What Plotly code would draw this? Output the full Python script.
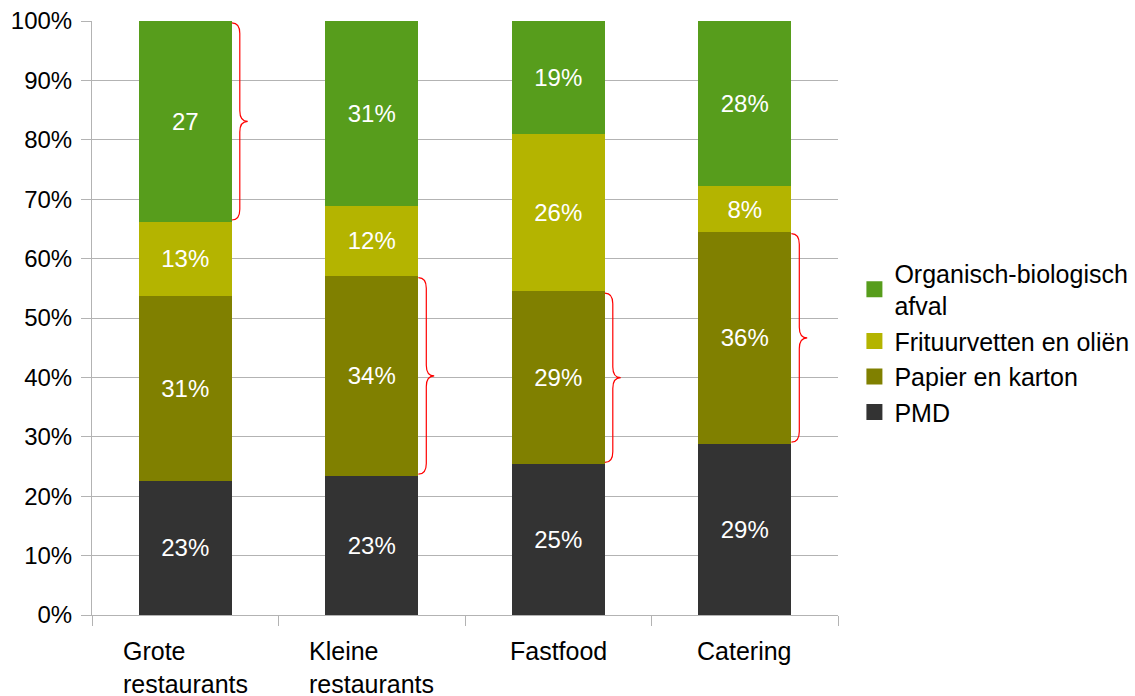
import plotly.graph_objects as go

categories = ["Grote<br>restaurants", "Kleine<br>restaurants", "Fastfood", "Catering"]
series_names = ["PMD", "Papier en karton", "Frituurvetten en oliën", "Organisch-biologisch<br>afval"]
pmd = [22.6, 23.4, 25.4, 28.8]
papier = [31.1, 33.7, 29.1, 35.7]
frituur = [12.5, 11.8, 26.5, 7.7]
organisch = [33.8, 31.1, 19.0, 27.8]
pmd_labels = ["23%", "23%", "25%", "29%"]
papier_labels = ["31%", "34%", "29%", "36%"]
frituur_labels = ["13%", "12%", "26%", "8%"]
organisch_labels = ["27", "31%", "19%", "28%"]
colors = ["#333333", "#808000", "#b4b400", "#579d1c"]
# brace: which series (index) is marked for each category
brace_series = [3, 1, 1, 1]
y_ticks = [0, 10, 20, 30, 40, 50, 60, 70, 80, 90, 100]
y_ticktext = [f"{v}%" for v in y_ticks]

FONT = "Liberation Sans, Arial, sans-serif"
values = [pmd, papier, frituur, organisch]
labels = [pmd_labels, papier_labels, frituur_labels, organisch_labels]
xpos = list(range(len(categories)))
BAR_W = 0.5

fig = go.Figure()
for vals, labs, col, name in zip(values, labels, colors, series_names):
    fig.add_trace(go.Bar(
        x=xpos, y=vals, width=BAR_W, name=name, marker=dict(color=col, line=dict(width=0)),
        text=labs, textposition="inside", insidetextanchor="middle", textangle=0,
        textfont=dict(color="white", size=24, family=FONT), showlegend=False,
        constraintext="none", hoverinfo="skip"))
# legend entries
for col, name in zip(colors, series_names):
    fig.add_trace(go.Scatter(
        x=[None], y=[None], mode="markers", name=name,
        marker=dict(symbol="square", size=17, color=col, line=dict(width=0)),
        showlegend=True))

# braces
shapes = []
brace_w = 0.085
r = 1.8
for i, s in enumerate(brace_series):
    bottom = sum(v[i] for v in values[:s]) + 0.3
    top = sum(v[i] for v in values[:s + 1]) - 0.3
    mid = (top + bottom) / 2
    x0 = i + BAR_W / 2
    xm = x0 + brace_w / 2
    x1 = x0 + brace_w
    path = (f"M {x0},{top} Q {xm},{top} {xm},{top - r} L {xm},{mid + r} "
            f"Q {xm},{mid} {x1},{mid} Q {xm},{mid} {xm},{mid - r} "
            f"L {xm},{bottom + r} Q {xm},{bottom} {x0},{bottom}")
    shapes.append(dict(type="path", xref="x", yref="y", path=path,
                       line=dict(color="#ff0000", width=1.2)))

annotations = []
for i, c in enumerate(categories):
    annotations.append(dict(x=i, y=0, xref="x", yref="paper", text=c, showarrow=False,
                            xanchor="center", yanchor="top", yshift=-20, align="left",
                            font=dict(size=25, color="#000000", family=FONT)))

fig.update_layout(
    width=1135, height=696,
    margin=dict(l=92, r=297, t=21, b=81, autoexpand=False),
    barmode="stack", plot_bgcolor="white", paper_bgcolor="white",
    font=dict(family=FONT, size=24, color="#000000"),
    shapes=shapes, annotations=annotations,
    legend=dict(x=1.022, y=0.614, xanchor="left", yanchor="top", traceorder="reversed",
                font=dict(size=25, color="#000000", family=FONT),
                bgcolor="rgba(0,0,0,0)", itemclick=False),
    xaxis=dict(range=[-0.5, len(categories) - 0.5], tickvals=[i - 0.5 for i in range(len(categories) + 1)],
               showticklabels=False, ticks="outside", ticklen=10, tickcolor="#b3b3b3",
               showgrid=False, zeroline=False, showline=True, linecolor="#b3b3b3", linewidth=1),
    yaxis=dict(range=[0, 100], tickvals=y_ticks, ticktext=y_ticktext, ticks="outside",
               ticklen=10, tickcolor="#b3b3b3", showgrid=True, gridcolor="#b3b3b3",
               gridwidth=1, zeroline=False, showline=True, linecolor="#b3b3b3",
               ticklabelstandoff=4,
               tickfont=dict(size=24, color="#000000", family=FONT)),
)

fig.write_html("out.html")
